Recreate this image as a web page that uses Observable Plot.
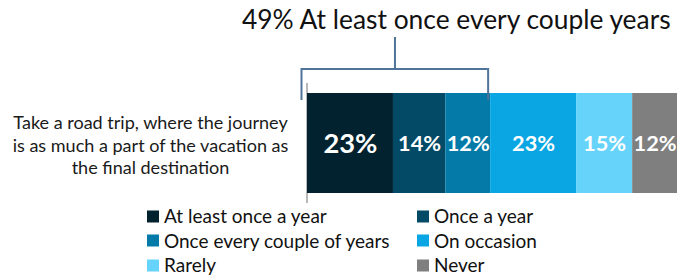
<!DOCTYPE html>
<html>
<head>
<meta charset="utf-8">
<script src="https://cdn.jsdelivr.net/npm/d3@7"></script>
<script src="https://cdn.jsdelivr.net/npm/@observablehq/plot@0.6"></script>
<style>
  html, body { margin: 0; padding: 0; background: #fff; }
  #wrap { position: relative; width: 677px; height: 278px; overflow: hidden; font-family: Lato, sans-serif; }
  #title { position: absolute; left: 242px; top: 0px; white-space: nowrap; color: #111; line-height: 1; }
  #legend { position: absolute; left: 147px; top: 203px; }
  .lg { position: absolute; display: flex; align-items: center; white-space: nowrap; color: #111; line-height: 1; }
  .sw { width: 12px; height: 12px; margin-right: 5px; flex: none; }
  svg { position: absolute; left: 0; top: 0; }
</style>
</head>
<body>
<div id="wrap"><div id="title"></div><div id="legend"></div></div>
<script>
const categories = ["At least once a year", "Once a year", "Once every couple of years", "On occasion", "Rarely", "Never"];
const values = [23, 14, 12, 23, 15, 12];
const colors = ["#03222f", "#034a67", "#047aa8", "#09a6e3", "#66d3fa", "#7f7f7f"];
const question = "Take a road trip, where the journey\nis as much a part of the vacation as\nthe final destination";
const groupLabel = "At least once every couple years";
const groupCount = 3;

const FAMILY = "Lato";
const ctx = document.createElement("canvas").getContext("2d");
function fit(text, weight, target) {
  ctx.font = `${weight} 100px ${FAMILY}`;
  return 100 * target / ctx.measureText(text).width;
}

const total = d3.sum(values);
const groupTotal = d3.sum(values.slice(0, groupCount));
const titleText = `${groupTotal}% ${groupLabel}`;

const rows = categories.map((c, i) => ({category: c, value: values[i], q: question, i}));

const labelFs = fit("Take a road trip, where the journey", "normal", 275);
const bigFs = fit("23%", "bold", 54);
const smallFs = fit("14%", "bold", 43);
const titleFs = fit(titleText, "normal", 431);
const legendFs = fit("Once every couple of years", "normal", 227);

const bracket = {stroke: "#4f7399", strokeWidth: 2};

const chart = Plot.plot({
  width: 677,
  height: 278,
  marginLeft: 307,
  marginRight: 0,
  marginTop: 93,
  marginBottom: 85,
  style: {fontFamily: FAMILY, background: "transparent"},
  x: {domain: [0, total], axis: null},
  y: {domain: [question], axis: null, padding: 0},
  color: {domain: categories, range: colors},
  marks: [
    // vertical axis line (spans the frame, extended above and below)
    Plot.ruleX([0], {x: d => d, stroke: "#a0a0a0", strokeWidth: 1.5, dx: -0.5, insetTop: -10, insetBottom: -10}),
    Plot.barX(rows, Plot.stackX({x: "value", y: "q", fill: "category"})),
    Plot.text(rows, Plot.stackX({
      x: "value", y: "q",
      text: d => d.value + "%",
      fill: "white", fontWeight: "bold",
      fontSize: d => d.i === 0 ? bigFs : smallFs,
      dy: 1
    })),
    Plot.text([question], {y: d => d, text: d => d, frameAnchor: "left", textAnchor: "middle", dx: -157, dy: 1, fontSize: labelFs, lineHeight: 22.5 / labelFs, fill: "#1a1a1a"}),
    // bracket over the first three segments
    Plot.ruleY([question], {y: d => d, x1: () => 0, x2: () => groupTotal, dy: -74.5, insetLeft: -6, insetRight: 2.5, ...bracket}),
    Plot.ruleX([0], {x: d => d, dx: -6, insetTop: -25, insetBottom: 93, ...bracket}),
    Plot.ruleX([groupTotal], {x: d => d, dx: -2.5, insetTop: -25, insetBottom: 93, ...bracket}),
    Plot.ruleX([groupTotal / 2], {x: d => d, dx: -4.1, insetTop: -56, insetBottom: 124, ...bracket})
  ]
});

const wrap = document.getElementById("wrap");
wrap.appendChild(chart);

const title = document.getElementById("title");
title.textContent = titleText;
title.style.fontSize = titleFs + "px";
title.style.top = (27 - titleFs * 0.8) + "px";

const legend = document.getElementById("legend");
categories.forEach((c, i) => {
  const row = Math.floor(i / 2), col = i % 2;
  const el = document.createElement("div");
  el.className = "lg";
  el.style.left = (col * 270) + "px";
  el.style.top = (13 + row * 24.5) + "px";
  el.style.transform = "translateY(-50%)";
  el.style.fontSize = legendFs + "px";
  const sw = document.createElement("div");
  sw.className = "sw";
  sw.style.background = colors[i];
  const tx = document.createElement("span");
  tx.textContent = c;
  el.appendChild(sw);
  el.appendChild(tx);
  legend.appendChild(el);
});
</script>
</body>
</html>
